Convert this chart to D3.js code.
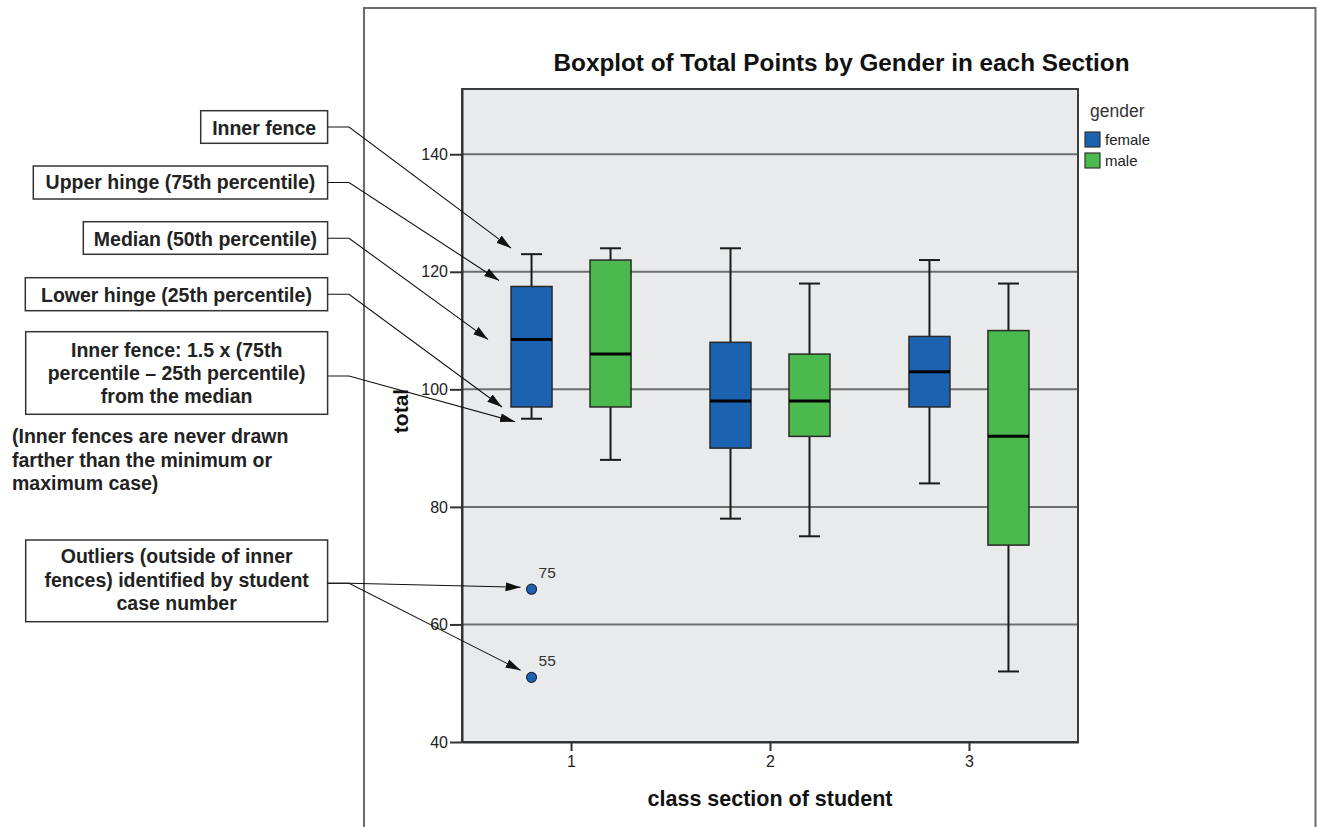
<!DOCTYPE html>
<html>
<head>
<meta charset="utf-8">
<script src="https://cdn.jsdelivr.net/npm/d3@7"></script>
<style>
  html, body { margin: 0; padding: 0; background: #fff; }
  svg { display: block; }
  text { font-family: "Liberation Sans", Arial, Helvetica, sans-serif; }
</style>
</head>
<body>
<svg id="chart" width="1317" height="827"></svg>
<script>
// ---------------- DATA ----------------
const categories = ["1", "2", "3"];
const genders = ["female", "male"];
const yTicks = [40, 60, 80, 100, 120, 140];
const gridValues = [60, 80, 100, 120, 140];
// per section: [female, male]
const whiskerLow  = [[95, 88], [78, 75], [84, 52]];
const lowerHinge  = [[97, 97], [90, 92], [97, 73.5]];
const medians     = [[108.5, 106], [98, 98], [103, 92]];
const upperHinge  = [[117.5, 122], [108, 106], [109, 110]];
const whiskerHigh = [[123, 124], [124, 118], [122, 118]];
const outlierSection = ["1", "1"];
const outlierGender = ["female", "female"];
const outlierValues = [66, 51];
const outlierLabels = ["75", "55"];
const titleText = "Boxplot of Total Points by Gender in each Section";
const xTitle = "class section of student";
const yTitle = "total";
const legendTitle = "gender";

// annotation texts
const noteInnerFence = ["Inner fence"];
const noteUpper = ["Upper hinge (75th percentile)"];
const noteMedian = ["Median (50th percentile)"];
const noteLower = ["Lower hinge (25th percentile)"];
const noteFenceRule = ["Inner fence: 1.5 x (75th", "percentile \u2013 25th percentile)", "from the median"];
const noteFree = ["(Inner fences are never drawn", "farther than the minimum or", "maximum case)"];
const noteOutliers = ["Outliers (outside of inner", "fences) identified by student", "case number"];

// ---------------- BUILD ----------------
const boxes = [];
categories.forEach((c, i) => {
  genders.forEach((g, j) => {
    boxes.push({
      section: c, gender: g,
      lo: whiskerLow[i][j], q1: lowerHinge[i][j], med: medians[i][j],
      q3: upperHinge[i][j], hi: whiskerHigh[i][j]
    });
  });
});
const outliers = outlierValues.map((v, i) => ({
  section: outlierSection[i], gender: outlierGender[i], value: v, label: outlierLabels[i]
}));

const svg = d3.select("#chart");
const plot = { left: 462, top: 89, right: 1078, bottom: 742 };

const x = d3.scalePoint().domain(categories).range([plot.left, plot.right]).padding(0.548);
const xg = d3.scalePoint().domain(genders).range([-39.5, 39.5]);
const y = d3.scaleLinear().domain([40, 151.1]).range([plot.bottom, plot.top]);
const color = d3.scaleOrdinal().domain(genders).range(["#1b63b1", "#4cb94f"]);
const boxW = 41, capW = 21;

// outer frame (open at bottom)
svg.append("path")
  .attr("d", `M364,827 V8 H1315.5 V827`)
  .attr("fill", "none").attr("stroke", "#6a6a6a").attr("stroke-width", 2);

// title
svg.append("text").attr("x", 841.5).attr("y", 71).attr("text-anchor", "middle")
  .attr("font-size", 24.3).attr("font-weight", "bold").attr("fill", "#111").text(titleText);

// plot background
svg.append("rect").attr("x", plot.left).attr("y", plot.top)
  .attr("width", plot.right - plot.left).attr("height", plot.bottom - plot.top)
  .attr("fill", "#e8eaeb");

// gridlines
svg.append("g").selectAll("line").data(gridValues).join("line")
  .attr("x1", plot.left).attr("x2", plot.right)
  .attr("y1", d => y(d)).attr("y2", d => y(d))
  .attr("stroke", "#6e6e6e").attr("stroke-width", 2);

// plot border
svg.append("rect").attr("x", plot.left).attr("y", plot.top)
  .attr("width", plot.right - plot.left).attr("height", plot.bottom - plot.top)
  .attr("fill", "none").attr("stroke", "#3c3c3c").attr("stroke-width", 2);

// axes
const yAxis = svg.append("g").attr("transform", `translate(${plot.left},0)`)
  .call(d3.axisLeft(y).tickValues(yTicks).tickSizeInner(12).tickSizeOuter(0).tickPadding(2).tickFormat(d3.format("d")));
yAxis.select(".domain").attr("stroke", "#333").attr("stroke-width", 2);
yAxis.selectAll(".tick line").attr("stroke", "#333").attr("stroke-width", 2);
yAxis.selectAll(".tick text").attr("font-size", 16).attr("fill", "#222")
  .attr("font-family", "'Liberation Sans', Arial, sans-serif");

const xAxis = svg.append("g").attr("transform", `translate(0,${plot.bottom})`)
  .call(d3.axisBottom(x).tickSizeInner(9).tickSizeOuter(0).tickPadding(5));
xAxis.select(".domain").attr("stroke", "#333").attr("stroke-width", 2);
xAxis.selectAll(".tick line").attr("stroke", "#333").attr("stroke-width", 2);
xAxis.selectAll(".tick text").attr("font-size", 16).attr("fill", "#222")
  .attr("font-family", "'Liberation Sans', Arial, sans-serif");

// axis titles
svg.append("text").attr("x", 770).attr("y", 806).attr("text-anchor", "middle")
  .attr("font-size", 21.5).attr("font-weight", "bold").attr("fill", "#111").text(xTitle);
svg.append("text").attr("transform", "translate(408,411) rotate(-90)").attr("text-anchor", "middle")
  .attr("font-size", 21).attr("font-weight", "bold").attr("fill", "#111").text(yTitle);

// boxes
const bg = svg.append("g").selectAll("g").data(boxes).join("g")
  .attr("transform", d => `translate(${x(d.section) + xg(d.gender)},0)`);
bg.append("line").attr("x1", 0).attr("x2", 0)
  .attr("y1", d => y(d.hi)).attr("y2", d => y(d.lo))
  .attr("stroke", "#1a1a1a").attr("stroke-width", 2);
bg.append("line").attr("x1", -capW / 2).attr("x2", capW / 2)
  .attr("y1", d => y(d.hi)).attr("y2", d => y(d.hi))
  .attr("stroke", "#1a1a1a").attr("stroke-width", 2);
bg.append("line").attr("x1", -capW / 2).attr("x2", capW / 2)
  .attr("y1", d => y(d.lo)).attr("y2", d => y(d.lo))
  .attr("stroke", "#1a1a1a").attr("stroke-width", 2);
bg.append("rect").attr("x", -boxW / 2).attr("width", boxW)
  .attr("y", d => y(d.q3)).attr("height", d => y(d.q1) - y(d.q3))
  .attr("fill", d => color(d.gender)).attr("stroke", "#2a2a2a").attr("stroke-width", 1.5);
bg.append("line").attr("x1", -boxW / 2).attr("x2", boxW / 2)
  .attr("y1", d => y(d.med)).attr("y2", d => y(d.med))
  .attr("stroke", "#000").attr("stroke-width", 3);

// outliers
const og = svg.append("g").selectAll("g").data(outliers).join("g")
  .attr("transform", d => `translate(${x(d.section) + xg(d.gender)},${y(d.value)})`);
og.append("circle").attr("r", 5).attr("fill", d => color(d.gender))
  .attr("stroke", "#1f2a3a").attr("stroke-width", 1.2);
og.append("text").attr("x", 7).attr("y", -11).attr("font-size", 15.5).attr("fill", "#333")
  .text(d => d.label);

// legend
const lg = svg.append("g");
lg.append("text").attr("x", 1090).attr("y", 117).attr("font-size", 17.5).attr("fill", "#333").text(legendTitle);
const li = lg.selectAll("g").data(genders).join("g")
  .attr("transform", (d, i) => `translate(1085,${132 + i * 21})`);
li.append("rect").attr("width", 15).attr("height", 15).attr("fill", d => color(d))
  .attr("stroke", "#333").attr("stroke-width", 1.2);
li.append("text").attr("x", 20).attr("y", 13).attr("font-size", 15).attr("fill", "#222").text(d => d);

// ---------------- ANNOTATIONS ----------------
const defs = svg.append("defs");
defs.append("marker").attr("id", "arr").attr("markerUnits", "userSpaceOnUse")
  .attr("viewBox", "0 -5 16 10").attr("refX", 15).attr("refY", 0)
  .attr("markerWidth", 16).attr("markerHeight", 10).attr("orient", "auto")
  .append("path").attr("d", "M0,-4.5 L15,0 L0,4.5 Z").attr("fill", "#111");

const f1 = boxes[0];
const f1x = x(f1.section) + xg(f1.gender);
const boxLeft = f1x - boxW / 2;

const anns = [
  { lines: noteInnerFence, box: [200.7, 110.7, 327.6, 143.3], base: [135], lineY: 127, tips: [[boxLeft, y(f1.hi) - 6]] },
  { lines: noteUpper, box: [33.3, 166, 327.6, 199], base: [189.3], lineY: 182.5, tips: [[boxLeft - 12, y(f1.q3) - 6]] },
  { lines: noteMedian, box: [83.3, 221.7, 327.6, 254.3], base: [245.7], lineY: 238.3, tips: [[boxLeft - 23, y(f1.med)]] },
  { lines: noteLower, box: [25.3, 277.7, 327.6, 310.7], base: [301.7], lineY: 294.3, tips: [[boxLeft - 9, y(f1.q1)]] },
  { lines: noteFenceRule, box: [25.7, 331.7, 327.6, 414.3], base: [356.7, 380, 403.3], lineY: 376, tips: [[boxLeft + 4, y(f1.lo) + 3]] },
  { lines: noteOutliers, box: [25.7, 540, 327.6, 621.7], base: [563.3, 586.7, 610], lineY: 583.3,
    tips: outliers.map(o => [x(o.section) + xg(o.gender) - 11, y(o.value) - (o.value > 60 ? 2 : 7)]) }
];

const ag = svg.append("g");
anns.forEach(a => {
  const [x0, y0, x1, y1] = a.box;
  ag.append("rect").attr("x", x0).attr("y", y0).attr("width", x1 - x0).attr("height", y1 - y0)
    .attr("fill", "#fff").attr("stroke", "#333").attr("stroke-width", 1.5);
  a.lines.forEach((t, i) => {
    ag.append("text").attr("x", (x0 + x1) / 2).attr("y", a.base[i]).attr("text-anchor", "middle")
      .attr("font-size", 19.5).attr("font-weight", "bold").attr("fill", "#222").text(t);
  });
  a.tips.forEach(tp => {
    ag.append("path").attr("d", `M${x1},${a.lineY} H349 L${tp[0]},${tp[1]}`)
      .attr("fill", "none").attr("stroke", "#111").attr("stroke-width", 1.1)
      .attr("marker-end", "url(#arr)");
  });
});

// free note
const fb = [443.3, 466.7, 490];
noteFree.forEach((t, i) => {
  ag.append("text").attr("x", 12).attr("y", fb[i]).attr("font-size", 19.5).attr("font-weight", "bold")
    .attr("fill", "#222").text(t);
});
</script>
</body>
</html>
